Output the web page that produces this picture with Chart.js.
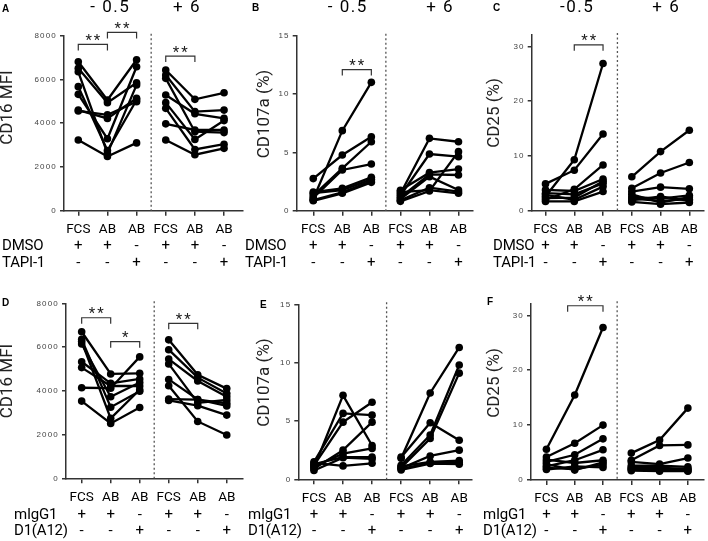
<!DOCTYPE html>
<html>
<head>
<meta charset="utf-8">
<script src="https://cdn.jsdelivr.net/npm/chart.js@4.4.1/dist/chart.umd.min.js"></script>
<style>
  body { margin: 0; background: #fff; }
  #wrap { position: relative; width: 708px; height: 541px; }
  #wrap canvas { position: absolute; left: 0; top: 0; }
</style>
</head>
<body>
<div id="wrap"></div>
<script>
// --- categorias y etiquetas ---
const xLabels = ['FCS', 'AB', 'AB', 'FCS', 'AB', 'AB'];
const timeLabels = ['- 0.5', '+ 6'];
const timeLabelsC = ['-0.5', '+ 6'];
const rowsTapi = ['DMSO', 'TAPI-1'];
const rowsD1 = ['mIgG1', 'D1(A12)'];
const signsTop = ['+', '+', '-', '+', '+', '-'];
const signsBottom = ['-', '-', '+', '-', '-', '+'];

// cada fila = un donante: [FCS, AB, AB + inhibidor]
const cd16TapiEarly = [
  [6810, 5060, 6900], [6510, 4940, 5850], [6350, 2620, 5750], [5670, 2750, 5060],
  [5320, 3290, 6580], [4600, 4220, 5140], [4560, 4380, 4980], [3230, 2480, 3100]
];
const cd16TapiLate = [
  [6430, 5090, 5390], [6200, 4530, 4600], [6050, 3610, 3570], [5290, 4430, 4220],
  [4940, 3260, 4120], [4680, 2800, 3040], [3970, 3690, 3690], [3230, 2560, 2850]
];
const cd107TapiEarly = [
  [1.0, 6.86, 11.0], [2.75, 4.77, 6.34], [1.3, 3.63, 5.91], [1.1, 3.49, 4.0],
  [1.6, 1.92, 2.86], [1.5, 1.77, 2.69], [0.9, 1.58, 2.55], [0.85, 1.49, 2.43]
];
const cd107TapiLate = [
  [1.45, 6.2, 5.91], [1.3, 4.86, 4.63], [1.75, 3.26, 3.57], [1.15, 3.12, 3.06],
  [1.0, 2.92, 1.77], [0.9, 1.97, 1.63], [1.6, 1.77, 1.49], [0.8, 1.69, 5.06]
];
const cd25TapiEarly = [
  [2.6, 9.3, 26.9], [4.9, 7.4, 14.0], [2.0, 3.9, 8.35], [3.8, 3.6, 5.8],
  [3.2, 3.0, 5.0], [2.3, 2.4, 5.4], [2.9, 2.0, 4.4], [1.7, 1.7, 3.5]
];
const cd25TapiLate = [
  [6.2, 10.8, 14.7], [4.1, 6.9, 8.8], [3.5, 4.3, 4.0], [3.0, 1.5, 2.5],
  [2.5, 2.2, 2.8], [2.2, 1.8, 2.1], [1.9, 2.6, 1.8], [1.6, 1.2, 1.5]
];
const cd16D1Early = [
  [6700, 4770, 4800], [6350, 3250, 3980], [6250, 2740, 4050], [6140, 3730, 4380],
  [5330, 4340, 4540], [5060, 4220, 4220], [4140, 4120, 5550], [3530, 2510, 3240]
];
const cd16D1Late = [
  [6330, 4730, 4100], [5880, 4600, 3880], [5450, 4450, 3730], [5230, 3450, 3580],
  [4520, 3600, 3310], [4230, 2600, 1980], [3620, 3600, 3430], [3560, 3320, 2890]
];
const cd107D1Early = [
  [1.0, 7.2, 2.9], [1.5, 5.65, 5.5], [1.2, 4.9, 6.6], [0.9, 2.5, 4.9],
  [1.1, 2.2, 2.65], [1.3, 1.9, 1.9], [0.75, 1.85, 1.75], [1.4, 1.15, 1.37]
];
const cd107D1Late = [
  [1.8, 7.4, 11.3], [1.2, 3.8, 9.8], [1.0, 3.5, 9.1], [1.9, 4.85, 3.35],
  [0.95, 2.0, 2.5], [1.1, 1.5, 1.6], [0.9, 1.4, 1.45], [0.8, 1.35, 1.3]
];
const cd25D1Early = [
  [5.6, 15.5, 27.8], [4.2, 6.7, 10.0], [3.3, 4.6, 7.5], [2.5, 3.6, 5.5],
  [3.7, 3.1, 3.6], [2.9, 1.8, 3.2], [2.2, 2.0, 2.8], [1.9, 2.5, 2.3]
];
const cd25D1Late = [
  [4.9, 7.3, 13.1], [3.6, 6.3, 6.4], [3.3, 2.9, 4.0], [2.6, 2.6, 2.4],
  [2.3, 2.0, 2.1], [2.1, 2.3, 1.9], [1.9, 1.8, 1.7], [1.7, 1.6, 1.6]
];

// significancia: [desde, hasta, valor y, texto]
const marksA = [[0, 1, 7600, '**'], [1, 2, 8150, '**'], [3, 4, 7070, '**']];
const marksB = [[1, 2, 12.1, '**']];
const marksC = [[1, 2, 30.3, '**']];
const marksD = [[0, 1, 7340, '**'], [1, 2, 6245, '*'], [3, 4, 7085, '**']];
const marksE = [];
const marksF = [[0.75, 2, 31.75, '**']];

// --- disposicion de cada panel ---
const panels = [
  { letter: 'A', letterPos: [2, 9], yTitle: 'CD16 MFI', yTitlePos: [7.5, 107.5],
    early: cd16TapiEarly, late: cd16TapiLate, marks: marksA, yMax: 8000, yStep: 2000,
    area: [64, 35.7, 243, 210.7], xRange: [-0.49, 5.65],
    titles: timeLabels, titleX: [1.1, 3.73], rows: rowsTapi, rowX: 2, rowY: [246.7, 263.3] },
  { letter: 'B', letterPos: [252, 8], yTitle: 'CD107a (%)', yTitlePos: [264.5, 114],
    early: cd107TapiEarly, late: cd107TapiLate, marks: marksB, yMax: 15, yStep: 5,
    area: [296.7, 35.7, 473, 210.7], xRange: [-0.57, 5.5],
    titles: timeLabels, titleX: [1.19, 4.37], rows: rowsTapi, rowX: 245, rowY: [246.7, 263.3] },
  { letter: 'C', letterPos: [493, 8.5], yTitle: 'CD25 (%)', yTitlePos: [494.5, 113],
    early: cd25TapiEarly, late: cd25TapiLate, marks: marksC, yMax: 32.1, yStep: 10,
    area: [531.7, 35, 706.7, 210.7], xRange: [-0.48, 5.51],
    titles: timeLabelsC, titleX: [1.1, 4.2], rows: rowsTapi, rowX: 493, rowY: [246.7, 263.3] },
  { letter: 'D', letterPos: [2, 303.5], yTitle: 'CD16 MFI', yTitlePos: [7.5, 381],
    early: cd16D1Early, late: cd16D1Late, marks: marksD, yMax: 8000, yStep: 2000,
    area: [66, 303.3, 243, 478.3], xRange: [-0.54, 5.56],
    titles: [], titleX: [], rows: rowsD1, rowX: 14, rowY: [515, 531.5] },
  { letter: 'E', letterPos: [260, 305], yTitle: 'CD107a (%)', yTitlePos: [264.5, 382.5],
    early: cd107D1Early, late: cd107D1Late, marks: marksE, yMax: 15, yStep: 5,
    area: [298.3, 304.3, 472, 479.3], xRange: [-0.54, 5.44],
    titles: [], titleX: [], rows: rowsD1, rowX: 248, rowY: [515, 531.5] },
  { letter: 'F', letterPos: [487, 302.5], yTitle: 'CD25 (%)', yTitlePos: [494.5, 383],
    early: cd25D1Early, late: cd25D1Late, marks: marksF, yMax: 32.2, yStep: 10,
    area: [531, 303.3, 707, 480], xRange: [-0.545, 5.57],
    titles: [], titleX: [], rows: rowsD1, rowX: 483, rowY: [515, 531.5] }
];

const W = 708, H = 541, X_AXIS_H = 30;
Chart.defaults.font.family = "Roboto, 'Liberation Sans', sans-serif";
Chart.defaults.color = '#000';

function buildDatasets(p) {
  const sets = [];
  [p.early, p.late].forEach((group, g) => {
    group.forEach(donor => {
      sets.push({
        data: donor.map((v, i) => ({ x: g * 3 + i, y: v })),
        borderColor: '#000',
        backgroundColor: '#000',
        borderWidth: 2.3,
        pointRadius: 3.8,
        pointBorderWidth: 0,
        pointBackgroundColor: '#000',
        tension: 0,
        clip: false
      });
    });
  });
  return sets;
}

// textos, corchetes y separador
function decoPlugin(p) {
  return {
    id: 'deco' + p.letter,
    beforeDraw(chart) { chart.ctx.letterSpacing = '1.2px'; },
    afterDatasetsDraw(chart) { chart.ctx.letterSpacing = '0px'; },
    afterDraw(chart) {
      const { ctx, chartArea: a } = chart;
      const x = chart.scales.x, y = chart.scales.y;
      ctx.save();

      // linea punteada entre -0.5 y +6
      const sx = x.getPixelForValue(2.5);
      ctx.strokeStyle = '#555';
      ctx.lineWidth = 1.3;
      ctx.setLineDash([2, 2.5]);
      ctx.beginPath();
      ctx.moveTo(sx, a.top - 2);
      ctx.lineTo(sx, a.bottom);
      ctx.stroke();
      ctx.setLineDash([]);

      // corchetes de significancia
      ctx.strokeStyle = '#333';
      ctx.lineWidth = 1.2;
      ctx.fillStyle = '#222';
      ctx.font = '15px Roboto';
      ctx.textAlign = 'center';
      ctx.textBaseline = 'alphabetic';
      ctx.letterSpacing = '2px';
      p.marks.forEach(([from, to, val, txt]) => {
        const x0 = x.getPixelForValue(from), x1 = x.getPixelForValue(to);
        const yy = y.getPixelForValue(val);
        ctx.beginPath();
        ctx.moveTo(x0, yy + 6);
        ctx.lineTo(x0, yy);
        ctx.lineTo(x1, yy);
        ctx.lineTo(x1, yy + 6);
        ctx.stroke();
        ctx.fillText(txt, (x0 + x1) / 2 + 1, yy + 0.5);
      });

      // titulos de tiempo
      ctx.fillStyle = '#000';
      ctx.font = '17px Roboto';
      ctx.letterSpacing = '1.5px';
      ctx.textBaseline = 'middle';
      p.titles.forEach((t, i) => ctx.fillText(t, x.getPixelForValue(p.titleX[i]), 7.5));

      // letra del panel
      ctx.letterSpacing = '0px';
      ctx.font = "bold 10px 'Liberation Sans'";
      ctx.textAlign = 'left';
      ctx.fillText(p.letter, p.letterPos[0], p.letterPos[1]);

      // titulo del eje y
      ctx.save();
      ctx.translate(p.yTitlePos[0], p.yTitlePos[1]);
      ctx.rotate(-Math.PI / 2);
      ctx.font = '17px Roboto';
      ctx.fillStyle = '#222';
      ctx.textAlign = 'center';
      ctx.fillText(p.yTitle, 0, 0);
      ctx.restore();

      // filas de tratamiento
      ctx.font = '15px Roboto';
      ctx.fillStyle = '#000';
      ctx.textAlign = 'left';
      ctx.letterSpacing = '-0.2px';
      p.rows.forEach((r, i) => ctx.fillText(r, p.rowX, p.rowY[i]));
      ctx.letterSpacing = '0px';
      ctx.textAlign = 'center';
      [signsTop, signsBottom].forEach((signs, i) => {
        signs.forEach((s, k) => ctx.fillText(s, x.getPixelForValue(k), p.rowY[i]));
      });

      ctx.restore();
    }
  };
}

const wrap = document.getElementById('wrap');
panels.forEach(p => {
  const canvas = document.createElement('canvas');
  canvas.width = W;
  canvas.height = H;
  wrap.appendChild(canvas);
  const [l, t, r, b] = p.area;
  const axisLine = { color: '#333', width: 1.5 };
  const tickMarks = { drawOnChartArea: false, tickLength: 4, color: '#333', lineWidth: 1.5 };

  new Chart(canvas.getContext('2d'), {
    type: 'line',
    data: { datasets: buildDatasets(p) },
    options: {
      responsive: false,
      animation: false,
      devicePixelRatio: 1,
      layout: { padding: { left: 0, top: t, right: W - r, bottom: H - b - X_AXIS_H } },
      plugins: { legend: { display: false }, tooltip: { enabled: false } },
      scales: {
        x: {
          type: 'linear',
          min: p.xRange[0],
          max: p.xRange[1],
          afterBuildTicks: s => { s.ticks = xLabels.map((_, i) => ({ value: i })); },
          afterFit: s => { s.height = X_AXIS_H; },
          ticks: {
            callback: v => xLabels[v],
            font: { size: 13.5 },
            color: '#000',
            padding: 6,
            z: 1,
            autoSkip: false,
            maxRotation: 0
          },
          grid: { ...tickMarks, tickLength: 5 },
          border: axisLine
        },
        y: {
          min: 0,
          max: p.yMax,
          afterFit: s => { s.width = l; },
          ticks: {
            stepSize: p.yStep,
            includeBounds: false,
            callback: v => String(v),
            font: { family: "'Liberation Sans'", size: 8 },
            color: '#444',
            padding: 3
          },
          grid: tickMarks,
          border: axisLine
        }
      }
    },
    plugins: [decoPlugin(p)]
  });
});
</script>
</body>
</html>
